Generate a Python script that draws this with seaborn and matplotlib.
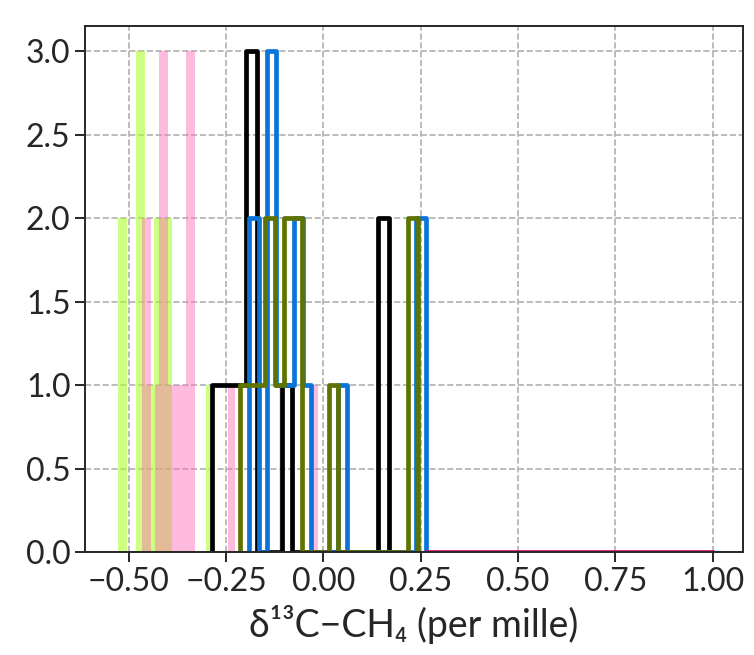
import numpy as np
import pandas as pd
import matplotlib
matplotlib.use('Agg')
import matplotlib.pyplot as plt
import seaborn as sns

sns.set_style('ticks')
plt.rcParams['font.family'] = ['Lato', 'DejaVu Sans']

# 各序列: 分箱边界 + 计数
green_edges = [-0.527, -0.504, -0.481, -0.458, -0.434, -0.411, -0.388,
               -0.302, -0.292, -0.115, -0.104]
green_counts = [2, 0, 3, 1, 2, 2, 0, 1, 0, 1]

pink_edges = [-0.467, -0.444, -0.432, -0.422, -0.399, -0.352, -0.329,
              -0.246, -0.228, -0.035, -0.015]
pink_counts = [2, 0, 1, 3, 1, 3, 0, 1, 0, 1]

black_edges = [-0.2855, -0.1995, -0.1699, -0.1057, -0.0800, 0.1409, 0.1679]
black_counts = [1, 3, 0, 1, 0, 2]

blue_edges = [-0.1905, -0.1648, -0.1455, -0.1211, -0.0749, -0.0530, -0.0325,
              0.0369, 0.0600, 0.2390, 0.2629]
blue_counts = [2, 0, 3, 1, 2, 1, 0, 1, 0, 2]

olive_edges = [-0.2136, -0.1494, -0.1237, -0.1006, -0.0543, 0.0137, 0.0369,
               0.2167, 0.2424]
olive_counts = [1, 2, 1, 2, 0, 1, 0, 2]

magenta_edges = [0.2629, 1.0]
magenta_counts = [0]


def draw(ax, edges, counts, color, fill, alpha=1.0, lw=3.4):
    # 两端补零宽箱，让阶梯线落回 0
    edges = [edges[0]] + list(edges) + [edges[-1]]
    counts = [0] + list(counts) + [0]
    mids = [(a + b) / 2 for a, b in zip(edges[:-1], edges[1:])]
    df = pd.DataFrame({'x': mids, 'w': counts})
    kw = dict(linewidth=0) if fill else dict(linewidth=lw)
    sns.histplot(data=df, x='x', weights='w', bins=edges, element='step',
                 fill=fill, color=color, alpha=alpha, ax=ax, **kw)


fig, ax = plt.subplots(figsize=(7.54, 6.55), dpi=100)
fig.subplots_adjust(left=0.113, right=0.985, top=0.960, bottom=0.157)

draw(ax, green_edges, green_counts, '#adff2f', True, alpha=0.6)
draw(ax, pink_edges, pink_counts, '#ff69b4', True, alpha=0.45)
draw(ax, black_edges, black_counts, 'black', False)
draw(ax, blue_edges, blue_counts, '#0a74da', False)
draw(ax, olive_edges, olive_counts, '#5f7300', False)
draw(ax, magenta_edges, magenta_counts, '#e0066f', False)

ax.set_xlim(-0.612, 1.077)
ax.set_ylim(0, 3.15)
ax.set_xticks(np.arange(-0.5, 1.01, 0.25))
ax.set_yticks(np.arange(0, 3.01, 0.5))
ax.set_xticklabels([f'{t:.2f}'.replace('-', '\u2212') for t in ax.get_xticks()])
ax.set_yticklabels([f'{t:.1f}' for t in ax.get_yticks()])
ax.tick_params(labelsize=23, length=7, width=1.4)
ax.grid(True, linestyle='--', color='#b0b0b0', linewidth=1.2)
ax.set_axisbelow(True)
for s in ax.spines.values():
    s.set_visible(True)
    s.set_linewidth(1.4)
ax.set_ylabel('')
ax.set_xlabel('δ¹³C\u2212CH₄ (per mille)', fontsize=27, labelpad=6)

fig.savefig('out.png', dpi=100)
